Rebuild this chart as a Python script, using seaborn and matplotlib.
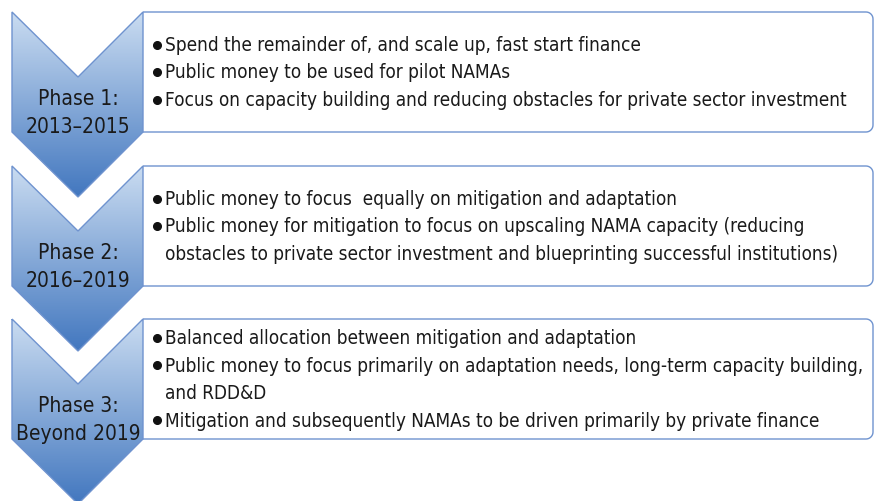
import numpy as np
import matplotlib.pyplot as plt
import seaborn as sns
from matplotlib.path import Path
from matplotlib.patches import PathPatch, Polygon

# Datos del diagrama
fases = ['Phase 1:\n2013–2015', 'Phase 2:\n2016–2019', 'Phase 3:\nBeyond 2019']
puntos_1 = ['Spend the remainder of, and scale up, fast start finance',
            'Public money to be used for pilot NAMAs',
            'Focus on capacity building and reducing obstacles for private sector investment']
puntos_2 = ['Public money to focus  equally on mitigation and adaptation',
            'Public money for mitigation to focus on upscaling NAMA capacity (reducing\n'
            'obstacles to private sector investment and blueprinting successful institutions)']
puntos_3 = ['Balanced allocation between mitigation and adaptation',
            'Public money to focus primarily on adaptation needs, long-term capacity building,\n'
            'and RDD&D',
            'Mitigation and subsequently NAMAs to be driven primarily by private finance']
puntos = [puntos_1, puntos_2, puntos_3]

sns.set_theme(style='white')
plt.rcParams['font.family'] = ['DejaVu Sans']

fig = plt.figure(figsize=(8.75, 5.02), dpi=100)
ax = fig.add_axes([0, 0, 1, 1])
ax.set_xlim(0, 875)
ax.set_ylim(502, 0)
ax.axis('off')

borde = '#6f93cf'
azules = sns.blend_palette(['#cadcf1', '#4277bf'], as_cmap=True)

tops = [13, 167, 320]
x0, xm, x1 = 12, 78, 143
muesca, alto, punta = 65, 120, 185
xr = 873
rad = 7

for i, top in enumerate(tops):
    # flecha (chevron) con degradado
    verts = [(x0, top), (xm, top + muesca), (x1, top), (x1, top + alto),
             (xm, top + punta), (x0, top + alto)]
    chev = Polygon(verts, closed=True, facecolor='none', edgecolor=borde, lw=1, zorder=3)
    ax.add_patch(chev)
    grad = np.linspace(0, 1, 256).reshape(-1, 1)
    im = ax.imshow(grad, cmap=azules, extent=[x0, x1, top + punta, top],
                   aspect='auto', zorder=2)
    im.set_clip_path(chev)

    # caja de texto con esquinas derechas redondeadas
    bot = top + alto
    t = np.linspace(0, np.pi / 2, 10)
    arc_top = [(xr - rad + rad * np.sin(a), top + rad - rad * np.cos(a)) for a in t]
    arc_bot = [(xr - rad + rad * np.cos(a), bot - rad + rad * np.sin(a)) for a in t]
    pts = [(x1, top)] + arc_top + arc_bot + [(x1, bot)]
    ax.add_patch(PathPatch(Path(pts), facecolor='white', edgecolor=borde, lw=1, zorder=1))

    ax.text(xm, top + 100, fases[i], ha='center', va='center', fontstretch='condensed',
            fontsize=15, color='#1a1a1a', linespacing=1.45, zorder=4)

    # lineas de viñetas
    lineas = []
    for p in puntos[i]:
        for k, l in enumerate(p.split('\n')):
            lineas.append((k == 0, l))
    n = len(lineas)
    paso = 27.5
    yc = top + 60 - (n - 1) * paso / 2
    for j, (vin, l) in enumerate(lineas):
        y = yc + j * paso
        if vin:
            ax.plot(157, y, 'o', ms=5.5, color='#111111')
        ax.text(165, y, l, ha='left', va='center', fontstretch='condensed',
                fontsize=13.6, color='#1a1a1a')

fig.savefig('out.png', dpi=100)
